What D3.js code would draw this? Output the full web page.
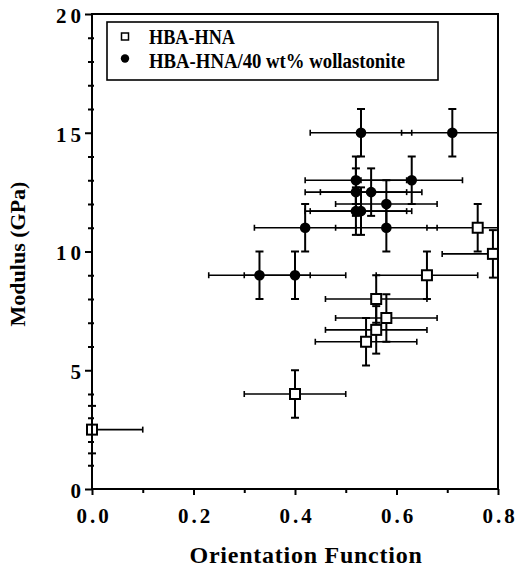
<!DOCTYPE html>
<html>
<head>
<meta charset="utf-8">
<script src="https://cdn.jsdelivr.net/npm/d3@7"></script>
<style>
    body { margin: 0; background: #fff; }
    svg text { font-family: "Liberation Serif", "Times New Roman", serif; font-weight: bold; fill: #000; }
</style>
</head>
<body>
<div id="chart"></div>
<script>

// HBA-HNA (open squares)
const hbaX    = [ 0.00, 0.40, 0.54, 0.56, 0.58, 0.56, 0.66, 0.79, 0.76 ];
const hbaY    = [ 2.5,  4.0,  6.2,  6.7,  7.2,  8.0,  9.0,  9.9,  11.0 ];
const hbaXErr = [ 0.1,  0.1,  0.1,  0.1,  0.1,  0.1,  0.1,  0.1,  0.1 ];
const hbaYErr = [ 1,    1,    1,    1,    1,    1,    1,    1,    1 ];

// HBA-HNA/40 wt% wollastonite (filled circles)
const wolX    = [ 0.53, 0.71, 0.52, 0.63, 0.52, 0.55, 0.58, 0.52, 0.53, 0.42, 0.58, 0.33, 0.40 ];
const wolY    = [ 15,   15,   13,   13,   12.5, 12.5, 12.0, 11.7, 11.7, 11.0, 11.0, 9.0,  9.0 ];
const wolXErr = [ 0.1,  0.1,  0.1,  0.1,  0.1,  0.1,  0.1,  0.1,  0.1,  0.1,  0.1,  0.1,  0.1 ];
const wolYErr = [ 1,    1,    1,    1,    1,    1,    1,    1,    1,    1,    1,    1,    1 ];

const xMajorTicks = [ 0, 0.2, 0.4, 0.6, 0.8 ];
const xMinorTicks = [ 0.1, 0.3, 0.5, 0.7 ];
const yMajorTicks = [ 0, 5, 10, 15, 20 ];
const yMinorTicks = d3.range( 1, 20 ).filter( d => d % 5 !== 0 );

const seriesNames = [ "HBA-HNA", "HBA-HNA/40 wt% wollastonite" ];

const svgWidth = 517, svgHeight = 568;
const margin = { top: 14, right: 19, bottom: 79, left: 92 };
const width = svgWidth - margin.left - margin.right;
const height = svgHeight - margin.top - margin.bottom;

const svg = d3.select( "#chart" ).append( "svg" )
    .attr( "width", svgWidth )
    .attr( "height", svgHeight );

const x = d3.scaleLinear()
    .domain( [ 0, 0.8 ] )
    .range( [ margin.left, margin.left + width ] );

const y = d3.scaleLinear()
    .domain( [ 0, 20 ] )
    .range( [ margin.top + height, margin.top ] );

// horizontal bars are cut at the frame, vertical caps may cross it
svg.append( "clipPath" ).attr( "id", "plot-clip" )
    .append( "rect" )
    .attr( "x", x( 0 ) - 1 ).attr( "y", 0 )
    .attr( "width", x( 0.8 ) - x( 0 ) + 2 ).attr( "height", svgHeight );

const toPoints = ( xs, ys, xe, ye ) => xs.map( ( d, i ) => ( { x: d, y: ys[i], xe: xe[i], ye: ye[i] } ) );
const hba = toPoints( hbaX, hbaY, hbaXErr, hbaYErr );
const wol = toPoints( wolX, wolY, wolXErr, wolYErr );

const hBars = svg.append( "g" ).attr( "clip-path", "url(#plot-clip)" ).attr( "stroke", "#000" );
const vBars = svg.append( "g" ).attr( "stroke", "#000" );

function drawErrors( data ) {
    const capH = 3, capV = 4;
    data.forEach( d => {
        const cx = x( d.x ), cy = y( d.y );
        const xl = x( d.x - d.xe ), xr = x( d.x + d.xe );
        const yt = y( d.y + d.ye ), yb = y( d.y - d.ye );
        hBars.append( "line" ).attr( "x1", xl ).attr( "x2", xr ).attr( "y1", cy ).attr( "y2", cy ).attr( "stroke-width", 1.6 );
        hBars.append( "line" ).attr( "x1", xl ).attr( "x2", xl ).attr( "y1", cy - capH ).attr( "y2", cy + capH ).attr( "stroke-width", 1.6 );
        hBars.append( "line" ).attr( "x1", xr ).attr( "x2", xr ).attr( "y1", cy - capH ).attr( "y2", cy + capH ).attr( "stroke-width", 1.6 );
        vBars.append( "line" ).attr( "x1", cx ).attr( "x2", cx ).attr( "y1", yt ).attr( "y2", yb ).attr( "stroke-width", 2 );
        vBars.append( "line" ).attr( "x1", cx - capV ).attr( "x2", cx + capV ).attr( "y1", yt ).attr( "y2", yt ).attr( "stroke-width", 2 );
        vBars.append( "line" ).attr( "x1", cx - capV ).attr( "x2", cx + capV ).attr( "y1", yb ).attr( "y2", yb ).attr( "stroke-width", 2 );
    });
}

drawErrors( wol );
drawErrors( hba );

// markers
svg.append( "g" ).selectAll( "circle" )
    .data( wol )
    .enter().append( "circle" )
        .attr( "cx", d => x( d.x ) )
        .attr( "cy", d => y( d.y ) )
        .attr( "r", 5.3 )
        .attr( "fill", "#000" );

svg.append( "g" ).selectAll( "rect" )
    .data( hba )
    .enter().append( "rect" )
        .attr( "x", d => x( d.x ) - 5 )
        .attr( "y", d => y( d.y ) - 5 )
        .attr( "width", 10 )
        .attr( "height", 10 )
        .attr( "fill", "#fff" )
        .attr( "stroke", "#000" )
        .attr( "stroke-width", 2 );

// axes
const xAxis = svg.append( "g" )
    .attr( "transform", `translate(0,${y( 0 )})` )
    .call( d3.axisBottom( x ).tickValues( xMajorTicks ).tickSize( 6 ).tickFormat( d3.format( ".1f" ) ) );
xAxis.selectAll( "text" )
    .attr( "y", 34 ).attr( "dy", 0 ).attr( "dx", 1.5 )
    .style( "font-size", "21px" ).style( "letter-spacing", "3px" );

svg.append( "g" )
    .attr( "transform", `translate(0,${y( 0 )})` )
    .call( d3.axisBottom( x ).tickValues( xMinorTicks ).tickSize( 4 ).tickFormat( "" ) );

const yAxis = svg.append( "g" )
    .attr( "transform", `translate(${x( 0 )},0)` )
    .call( d3.axisLeft( y ).tickValues( yMajorTicks ).tickSize( 7 ) );
yAxis.selectAll( "text" )
    .attr( "x", -7 ).attr( "dy", "0.4em" )
    .style( "font-size", "21px" ).style( "letter-spacing", "4px" );

svg.append( "g" )
    .attr( "transform", `translate(${x( 0 )},0)` )
    .call( d3.axisLeft( y ).tickValues( yMinorTicks ).tickSize( 4 ).tickFormat( "" ) )
    .selectAll( "line" ).attr( "x2", -4 ).attr( "x1", 2 );

svg.selectAll( ".domain" ).remove();
svg.selectAll( ".tick line" ).attr( "stroke", "#000" ).attr( "stroke-width", 2 );

svg.append( "rect" )
    .attr( "x", x( 0 ) ).attr( "y", y( 20 ) )
    .attr( "width", x( 0.8 ) - x( 0 ) ).attr( "height", y( 0 ) - y( 20 ) )
    .attr( "fill", "none" ).attr( "stroke", "#000" ).attr( "stroke-width", 2 );

// axis titles
svg.append( "text" )
    .attr( "x", 306 ).attr( "y", 563 )
    .attr( "text-anchor", "middle" )
    .style( "font-size", "24px" ).style( "letter-spacing", "0.75px" )
    .text( "Orientation Function" );

svg.append( "text" )
    .attr( "transform", "translate(25,254) rotate(-90)" )
    .attr( "text-anchor", "middle" )
    .style( "font-size", "22px" )
    .text( "Modulus (GPa)" );

// legend
const legend = svg.append( "g" );
legend.append( "rect" )
    .attr( "x", 107 ).attr( "y", 22 ).attr( "width", 331 ).attr( "height", 58 )
    .attr( "fill", "#fff" ).attr( "stroke", "#000" ).attr( "stroke-width", 1.6 );
legend.append( "rect" )
    .attr( "x", 121.5 ).attr( "y", 33 ).attr( "width", 7 ).attr( "height", 7 )
    .attr( "fill", "#fff" ).attr( "stroke", "#000" ).attr( "stroke-width", 1.5 );
legend.append( "circle" )
    .attr( "cx", 125 ).attr( "cy", 58.5 ).attr( "r", 4.2 ).attr( "fill", "#000" );
legend.selectAll( ".legend-label" )
    .data( seriesNames )
    .enter().append( "text" )
        .attr( "class", "legend-label" )
        .attr( "x", 149 )
        .attr( "y", ( d, i ) => 44 + i * 23.5 )
        .attr( "textLength", ( d, i ) => i === 0 ? 86 : 256 )
        .attr( "lengthAdjust", "spacingAndGlyphs" )
        .style( "font-size", "20px" )
        .text( d => d );

</script>
</body>
</html>
